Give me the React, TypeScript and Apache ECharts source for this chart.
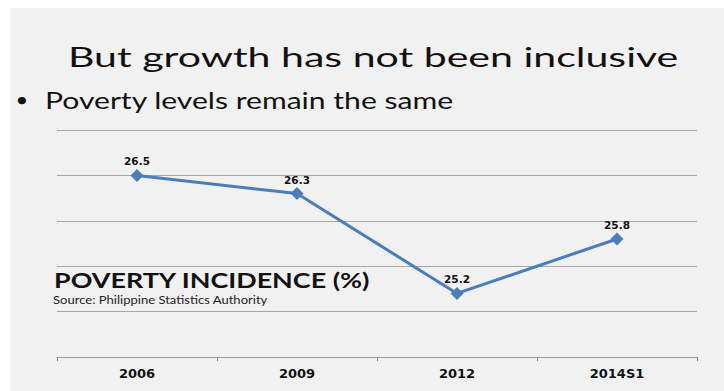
import React, { useEffect, useRef } from "react";
import * as echarts from "echarts";

const categories = ["2006", "2009", "2012", "2014S1"];
const incidence = [26.5, 26.3, 25.2, 25.8];
const titleText = "But growth has not been inclusive";
const bulletText = "Poverty levels remain the same";
const chartTitle = "POVERTY INCIDENCE (%)";
const sourceText = "Source: Philippine Statistics Authority";

export default function App() {
  const ref = useRef<HTMLDivElement>(null);
  useEffect(() => {
    if (!ref.current) return;
    const chart = echarts.init(ref.current, null, { renderer: "svg" });
    const font = "Lato, 'Open Sans', sans-serif";
    const lblFont = "'DejaVu Sans', sans-serif";
    const txt = (text: string, x: number, y: number, f: string, sx: number, fill = "#111", align = "left") => ({
      type: "text",
      x,
      y,
      scaleX: sx,
      style: { text, font: f, fill, align, verticalAlign: "middle" },
    });
    chart.setOption({
      animation: false,
      backgroundColor: "#ffffff",
      graphic: [
        { type: "rect", z: -10, shape: { x: 10, y: 8, width: 714, height: 383 }, style: { fill: "#f1f1f1" } },
        txt(titleText, 68, 57, `26.5px ${font}`, 1.55),
        txt("•", 22, 98.5, `20px ${font}`, 1.1, "#111", "center"),
        txt(bulletText, 45, 100.5, `22.3px ${font}`, 1.35),
        txt(chartTitle, 54, 280, `bold 21.7px ${font}`, 1.24),
        txt(sourceText, 53, 299.5, `10.7px ${font}`, 1.22, "#222"),
      ],
      grid: { left: 57, right: 27, top: 130, bottom: 34, containLabel: false },
      xAxis: {
        type: "category",
        data: categories,
        boundaryGap: true,
        axisLine: { show: true, lineStyle: { color: "#9a9a9a", width: 1 } },
        axisTick: { show: true, length: 4, alignWithLabel: false, lineStyle: { color: "#888" } },
        axisLabel: { color: "#111", fontWeight: "bold", fontSize: 13, fontFamily: lblFont, margin: 10 },
        splitLine: { show: false },
      },
      yAxis: {
        type: "value",
        min: 24.5,
        max: 27,
        interval: 0.5,
        axisLine: { show: false },
        axisTick: { show: false },
        axisLabel: { show: false },
        splitLine: { show: true, lineStyle: { color: "#a6a6a6", width: 1 } },
      },
      series: [
        {
          type: "line",
          data: incidence,
          symbol: "diamond",
          symbolSize: 13,
          lineStyle: { color: "#4a7ebb", width: 3 },
          itemStyle: { color: "#4a7ebb" },
          label: {
            show: true,
            position: "top",
            distance: 2,
            color: "#111",
            fontWeight: "bold",
            fontSize: 10.5,
            fontFamily: lblFont,
            formatter: (p: any) => p.value.toFixed(1),
          },
        },
      ],
    });
    return () => chart.dispose();
  }, []);
  return <div ref={ref} style={{ position: "fixed", left: 0, top: 0, width: 724, height: 391 }} />;
}
